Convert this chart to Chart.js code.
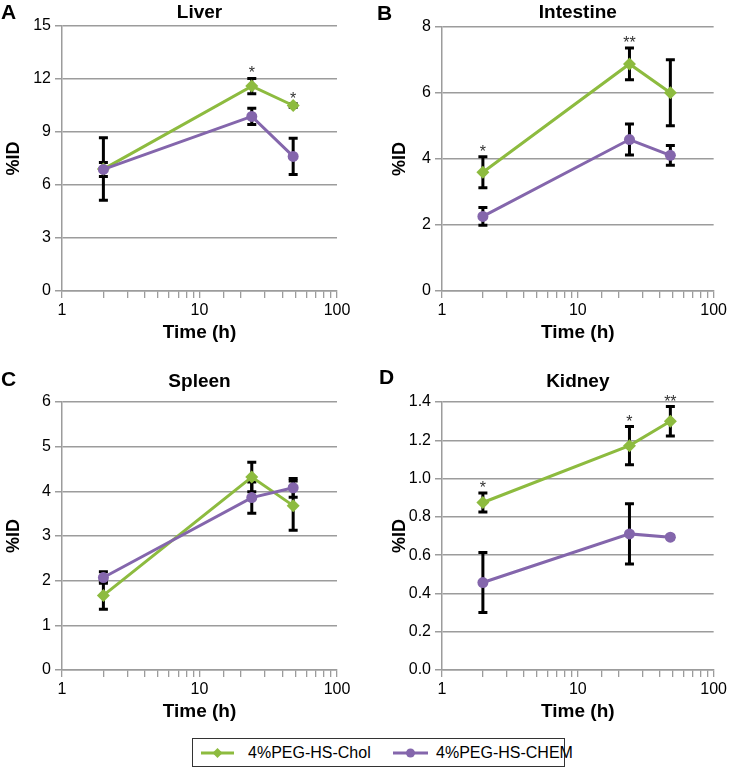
<!DOCTYPE html>
<html>
<head>
<meta charset="utf-8">
<script src="https://cdn.jsdelivr.net/npm/chart.js@4/dist/chart.umd.min.js"></script>
<style>
  html, body { margin: 0; padding: 0; background: #fff; }
  body { width: 730px; height: 769px; position: relative; overflow: hidden; font-family: "Liberation Sans", Arial, sans-serif; }
  .panel { position: absolute; width: 365px; }
  .letter { position: absolute; font: bold 21px "Liberation Sans", Arial, sans-serif; line-height: 22px; color: #000; }
  #legend { position: absolute; left: 192px; top: 738px; width: 371px; height: 27px; border: 1px solid #333; box-sizing: content-box;
            font: 16px "Liberation Sans", Arial, sans-serif; color: #000; }
  .li { position: absolute; top: 0; height: 27px; line-height: 27px; white-space: nowrap; }
  .li svg { position: absolute; top: 7px; }
  .li span { position: absolute; }
</style>
</head>
<body>
<div class="panel" id="pA" style="left:0;top:0;height:345px;"><canvas id="cA"></canvas></div>
<div class="panel" id="pB" style="left:365px;top:0;height:345px;"><canvas id="cB"></canvas></div>
<div class="panel" id="pC" style="left:0;top:370px;height:354px;"><canvas id="cC"></canvas></div>
<div class="panel" id="pD" style="left:365px;top:370px;height:354px;"><canvas id="cD"></canvas></div>
<div class="letter" style="left:1px;top:1px;">A</div>
<div class="letter" style="left:377px;top:2px;">B</div>
<div class="letter" style="left:1px;top:368px;">C</div>
<div class="letter" style="left:379px;top:366px;">D</div>
<div id="legend">
  <div class="li" style="left:7px;">
    <svg width="36" height="14"><line x1="1" y1="7" x2="34" y2="7" stroke="#8dbb3f" stroke-width="3"/><polygon points="17.5,2 22.5,7 17.5,12 12.5,7" fill="#8dbb3f"/></svg>
    <span style="left:48px;">4%PEG-HS-Chol</span>
  </div>
  <div class="li" style="left:199px;">
    <svg width="38" height="14"><line x1="1" y1="7" x2="36" y2="7" stroke="#8466ac" stroke-width="3"/><circle cx="18.5" cy="7" r="4.5" fill="#8466ac"/></svg>
    <span style="left:44px;">4%PEG-HS-CHEM</span>
  </div>
</div>
<script>
// ---- data ----
const times = [2, 24, 48];
const seriesNames = ['4%PEG-HS-Chol', '4%PEG-HS-CHEM'];

const liverChol = [6.9, 11.6, 10.5];
const liverCholErr = [1.77, 0.43, 0.1];
const liverChem = [6.88, 9.88, 7.62];
const liverChemErr = [0.4, 0.46, 1.02];
const liverStars = ['', '*', '*'];

const intestineChol = [3.6, 6.88, 6.01];
const intestineCholErr = [0.47, 0.48, 1.0];
const intestineChem = [2.26, 4.59, 4.11];
const intestineChemErr = [0.27, 0.47, 0.3];
const intestineStars = ['*', '**', ''];

const spleenChol = [1.67, 4.32, 3.68];
const spleenCholErr = [0.31, 0.33, 0.55];
const spleenChem = [2.07, 3.86, 4.08];
const spleenChemErr = [0.13, 0.35, 0.21];
const spleenStars = ['', '', ''];

const kidneyChol = [0.875, 1.172, 1.299];
const kidneyCholErr = [0.05, 0.1, 0.077];
const kidneyChem = [0.457, 0.711, 0.694];
const kidneyChemErr = [0.157, 0.157, 0.008];
const kidneyStars = ['*', '*', '**'];

const xTickLabels = [1, 10, 100];

// ---- styles ----
const GREEN = '#8dbb3f';
const PURPLE = '#8466ac';
const GRID = '#9c9c9c';
const FONT = '"Liberation Sans", Arial, sans-serif';

const errorBarPlugin = {
  id: 'errorBars',
  beforeDatasetsDraw(chart) {
    const ctx = chart.ctx;
    const xs = chart.scales.x, ys = chart.scales.y;
    ctx.save();
    ctx.strokeStyle = '#000';
    ctx.lineWidth = 3;
    ctx.lineCap = 'butt';
    chart.data.datasets.forEach(ds => {
      ds.data.forEach((p, i) => {
        const e = ds.errors[i];
        const x = xs.getPixelForValue(p.x);
        const yTop = ys.getPixelForValue(p.y + e);
        const yBot = ys.getPixelForValue(p.y - e);
        ctx.beginPath();
        ctx.moveTo(x, yTop); ctx.lineTo(x, yBot);
        ctx.moveTo(x - 4.5, yTop); ctx.lineTo(x + 4.5, yTop);
        ctx.moveTo(x - 4.5, yBot); ctx.lineTo(x + 4.5, yBot);
        ctx.stroke();
      });
    });
    ctx.restore();
  },
  afterDatasetsDraw(chart) {
    const ctx = chart.ctx;
    const xs = chart.scales.x, ys = chart.scales.y;
    const ds = chart.data.datasets.find(d => d.stars);
    if (!ds) return;
    ctx.save();
    ctx.fillStyle = '#333';
    ctx.font = '16px ' + FONT;
    ctx.textAlign = 'center';
    ctx.textBaseline = 'alphabetic';
    ds.data.forEach((p, i) => {
      const s = ds.stars[i];
      if (!s) return;
      const x = xs.getPixelForValue(p.x);
      const yTop = ys.getPixelForValue(p.y + ds.errors[i]);
      ctx.fillText(s, x, yTop);
    });
    ctx.restore();
  }
};

function makePanel(id, cfg) {
  const cholPts = times.map((t, i) => ({ x: t, y: cfg.chol[i] }));
  const chemPts = times.map((t, i) => ({ x: t, y: cfg.chem[i] }));
  return new Chart(document.getElementById(id), {
    type: 'line',
    data: {
      datasets: [
        { label: seriesNames[0], data: cholPts, errors: cfg.cholErr, stars: cfg.stars,
          borderColor: GREEN, backgroundColor: GREEN, borderWidth: 3,
          pointStyle: 'rectRot', pointRadius: 6.5, pointHoverRadius: 6.5, pointBorderWidth: 0,
          tension: 0, order: 1 },
        { label: seriesNames[1], data: chemPts, errors: cfg.chemErr,
          borderColor: PURPLE, backgroundColor: PURPLE, borderWidth: 3,
          pointStyle: 'circle', pointRadius: 5.5, pointHoverRadius: 5.5, pointBorderWidth: 0,
          tension: 0, order: 0 }
      ]
    },
    options: {
      responsive: true,
      maintainAspectRatio: false,
      animation: false,
      events: [],
      layout: { padding: { left: 0, right: cfg.padRight, top: 0, bottom: 0 } },
      plugins: {
        legend: { display: false },
        tooltip: { enabled: false },
        title: {
          display: true, text: cfg.title, fullSize: false, color: '#000',
          font: { family: FONT, size: 19, weight: 'bold', lineHeight: 1.2 },
          padding: { top: cfg.titleTop, bottom: cfg.titleBottom }
        }
      },
      scales: {
        x: {
          type: 'logarithmic', min: 1, max: 100,
          afterFit(s) { s.height = cfg.xh; },
          grid: { drawOnChartArea: false, drawTicks: true, tickLength: 7, color: GRID, lineWidth: 1.3 },
          border: { display: true, color: GRID, width: 1.5 },
          ticks: {
            autoSkip: false, maxRotation: 0, padding: 3, color: '#000',
            font: { family: FONT, size: 16 },
            callback(v) { return xTickLabels.includes(v) ? String(v) : ''; }
          },
          title: { display: true, text: 'Time (h)', color: '#000',
            font: { family: FONT, size: 19, weight: 'bold', lineHeight: 1.2 },
            padding: { top: 0, bottom: 0.6 } }
        },
        y: {
          min: 0, max: cfg.ymax,
          afterFit(s) { s.width = cfg.yw; },
          grid: { drawOnChartArea: true, drawTicks: true, tickLength: 7, color: GRID, lineWidth: 1.5 },
          border: { display: true, color: GRID, width: 1.5 },
          ticks: {
            stepSize: cfg.step, padding: 4, color: '#000',
            font: { family: FONT, size: 16 },
            callback(v) { return cfg.decimals ? v.toFixed(cfg.decimals) : String(v); }
          },
          title: { display: true, text: '%ID', color: '#000',
            font: { family: FONT, size: 18, weight: 'bold', lineHeight: 1.2 },
            padding: { top: cfg.yTitlePad, bottom: 0 } }
        }
      }
    },
    plugins: [errorBarPlugin]
  });
}

makePanel('cA', { title: 'Liver', chol: liverChol, cholErr: liverCholErr, chem: liverChem, chemErr: liverChemErr, stars: liverStars,
  ymax: 15, step: 3, decimals: 0, yw: 62, padRight: 28, xh: 54, titleTop: 1, titleBottom: 2.2, yTitlePad: 3.2 });
makePanel('cB', { title: 'Intestine', chol: intestineChol, cholErr: intestineCholErr, chem: intestineChem, chemErr: intestineChemErr, stars: intestineStars,
  ymax: 8, step: 2, decimals: 0, yw: 77, padRight: 13, xh: 54, titleTop: 1, titleBottom: 3.2, yTitlePad: 24 });
makePanel('cC', { title: 'Spleen', chol: spleenChol, cholErr: spleenCholErr, chem: spleenChem, chemErr: spleenChemErr, stars: spleenStars,
  ymax: 6, step: 1, decimals: 0, yw: 62, padRight: 28, xh: 54, titleTop: 0, titleBottom: 9.2, yTitlePad: 3.2 });
makePanel('cD', { title: 'Kidney', chol: kidneyChol, cholErr: kidneyCholErr, chem: kidneyChem, chemErr: kidneyChemErr, stars: kidneyStars,
  ymax: 1.4, step: 0.2, decimals: 1, yw: 77, padRight: 13, xh: 54, titleTop: 0, titleBottom: 9.2, yTitlePad: 24 });
</script>
</body>
</html>
